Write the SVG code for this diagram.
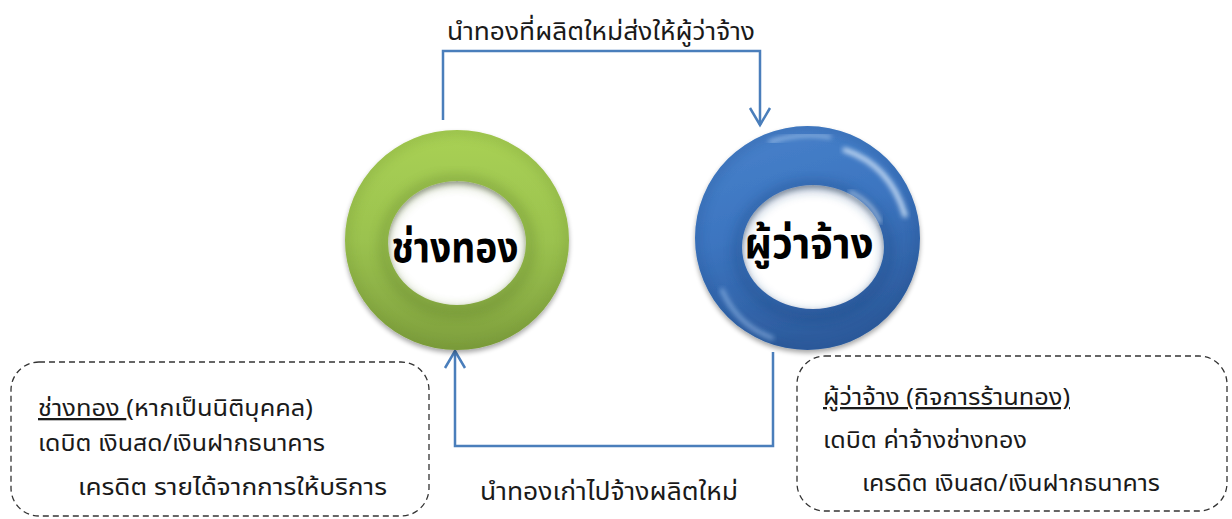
<svg xmlns="http://www.w3.org/2000/svg" width="1232" height="519" viewBox="0 0 1232 519">
  <style>
    .t { font-family: "Noto Sans Thai", "Noto Sans", "DejaVu Sans", sans-serif; fill: #1a1a1a; }
    .lbl { font-size: 25px; }
    .box { font-size: 23px; }
    .ring-lbl { font-size: 42px; font-weight: bold; fill: #000; }
    .conn { fill: none; stroke: #4A7EBB; stroke-width: 2.5; }
    .dash { fill: #fff; stroke: #333; stroke-width: 1.3; stroke-dasharray: 6 4; }
  </style>
  <defs>
    <marker id="arr" viewBox="-20 -12 24 24" markerWidth="24" markerHeight="24" refX="0" refY="0" orient="auto" markerUnits="userSpaceOnUse">
      <path d="M -17 -10 L 0 0 L -17 10" fill="none" stroke="#4A7EBB" stroke-width="2.5"/>
    </marker>
    <linearGradient id="gG" x1="0" y1="0" x2="0" y2="1">
      <stop offset="0" stop-color="#A9D154"/>
      <stop offset="0.5" stop-color="#9BC24F"/>
      <stop offset="1" stop-color="#7E9F3D"/>
    </linearGradient>
    <linearGradient id="gB" x1="0" y1="0" x2="0.3" y2="1">
      <stop offset="0" stop-color="#4A83CC"/>
      <stop offset="0.5" stop-color="#3C75C0"/>
      <stop offset="1" stop-color="#2D5C9E"/>
    </linearGradient>
    <filter id="sh" x="-20%" y="-20%" width="140%" height="140%">
      <feGaussianBlur in="SourceAlpha" stdDeviation="2.5"/>
      <feOffset dx="0" dy="3"/>
      <feComponentTransfer><feFuncA type="linear" slope="0.35"/></feComponentTransfer>
      <feMerge><feMergeNode/><feMergeNode in="SourceGraphic"/></feMerge>
    </filter>
    <filter id="blur"><feGaussianBlur stdDeviation="2.5"/></filter>
    <filter id="blur6"><feGaussianBlur stdDeviation="6"/></filter>
    <clipPath id="clipG"><path fill-rule="evenodd" d="M345,240 a112,110 0 1,0 224,0 a112,110 0 1,0 -224,0 Z M388,243 a69,62 0 1,0 138,0 a69,62 0 1,0 -138,0 Z"/></clipPath>
    <clipPath id="clipB"><path fill-rule="evenodd" d="M695,238 a112.5,112 0 1,0 225,0 a112.5,112 0 1,0 -225,0 Z M742,247 a71,62 0 1,0 142,0 a71,62 0 1,0 -142,0 Z"/></clipPath>
  </defs>

  <g id="connectors">
    <path class="conn" d="M443,120 V51 H760 V125" marker-end="url(#arr)"/>
    <path class="conn" d="M773,352 V446 H455 V351" marker-end="url(#arr)"/>
    <text class="t lbl" x="601" y="40" text-anchor="middle" textLength="308" lengthAdjust="spacingAndGlyphs">นำทองที่ผลิตใหม่ส่งให้ผู้ว่าจ้าง</text>
    <text class="t lbl" x="609" y="500" text-anchor="middle" textLength="258" lengthAdjust="spacingAndGlyphs">นำทองเก่าไปจ้างผลิตใหม่</text>
  </g>

  <g id="node-goldsmith">
    <path filter="url(#sh)" fill="url(#gG)" fill-rule="evenodd"
      d="M345,240 a112,110 0 1,0 224,0 a112,110 0 1,0 -224,0 Z M388,243 a69,62 0 1,0 138,0 a69,62 0 1,0 -138,0 Z"/>
    <g clip-path="url(#clipG)">
      <ellipse cx="457" cy="246" rx="73" ry="66" fill="none" stroke="#5E7E2A" stroke-width="8" opacity="0.45" filter="url(#blur6)"/>
      <ellipse cx="457" cy="240" rx="112" ry="110" fill="none" stroke="#5E7E2A" stroke-width="6" opacity="0.35" filter="url(#blur6)"/>
    </g>
    <text class="t ring-lbl" x="455" y="262" text-anchor="middle" textLength="127" lengthAdjust="spacingAndGlyphs">ช่างทอง</text>
  </g>

  <g id="node-employer">
    <path filter="url(#sh)" fill="url(#gB)" fill-rule="evenodd"
      d="M695,238 a112.5,112 0 1,0 225,0 a112.5,112 0 1,0 -225,0 Z M742,247 a71,62 0 1,0 142,0 a71,62 0 1,0 -142,0 Z"/>
    <g clip-path="url(#clipB)">
      <ellipse cx="813" cy="251" rx="75" ry="66" fill="none" stroke="#1F4A86" stroke-width="8" opacity="0.5" filter="url(#blur6)"/>
      <ellipse cx="807.5" cy="238" rx="112.5" ry="112" fill="none" stroke="#1F4A86" stroke-width="6" opacity="0.4" filter="url(#blur6)"/>
    </g>
    <path d="M845,150 q45,15 60,65" fill="none" stroke="#d6e7fa" stroke-width="5" stroke-linecap="round" filter="url(#blur)" opacity="0.9"/>
    <path d="M770,142 q30,-10 60,-5" fill="none" stroke="#b9d4f3" stroke-width="3" stroke-linecap="round" filter="url(#blur)" opacity="0.8"/>
    <path d="M722,290 q15,35 50,48" fill="none" stroke="#9cc0ec" stroke-width="4" stroke-linecap="round" filter="url(#blur)" opacity="0.7"/>
    <path d="M850,192 q22,10 30,30" fill="none" stroke="#e6f0fb" stroke-width="3" stroke-linecap="round" filter="url(#blur)" opacity="0.8"/>
    <text class="t ring-lbl" x="809" y="258" text-anchor="middle" textLength="129" lengthAdjust="spacingAndGlyphs">ผู้ว่าจ้าง</text>
  </g>

  <g id="note-goldsmith">
    <rect class="dash" x="11" y="362" width="418" height="154" rx="28"/>
    <text class="t box" x="38" y="416" textLength="275" lengthAdjust="spacingAndGlyphs"><tspan text-decoration="underline">ช่างทอง </tspan>(หากเป็นนิติบุคคล)</text>
    <text class="t box" x="38" y="451" textLength="287" lengthAdjust="spacingAndGlyphs">เดบิต เงินสด/เงินฝากธนาคาร</text>
    <text class="t box" x="78" y="495" textLength="309" lengthAdjust="spacingAndGlyphs">เครดิต รายได้จากการให้บริการ</text>
  </g>

  <g id="note-employer">
    <rect class="dash" x="797" y="356" width="430" height="155" rx="28"/>
    <text class="t box" x="823" y="405" text-decoration="underline" textLength="247" lengthAdjust="spacingAndGlyphs">ผู้ว่าจ้าง (กิจการร้านทอง)</text>
    <text class="t box" x="823" y="448" textLength="204" lengthAdjust="spacingAndGlyphs">เดบิต ค่าจ้างช่างทอง</text>
    <text class="t box" x="862" y="491" textLength="298" lengthAdjust="spacingAndGlyphs">เครดิต เงินสด/เงินฝากธนาคาร</text>
  </g>
</svg>
